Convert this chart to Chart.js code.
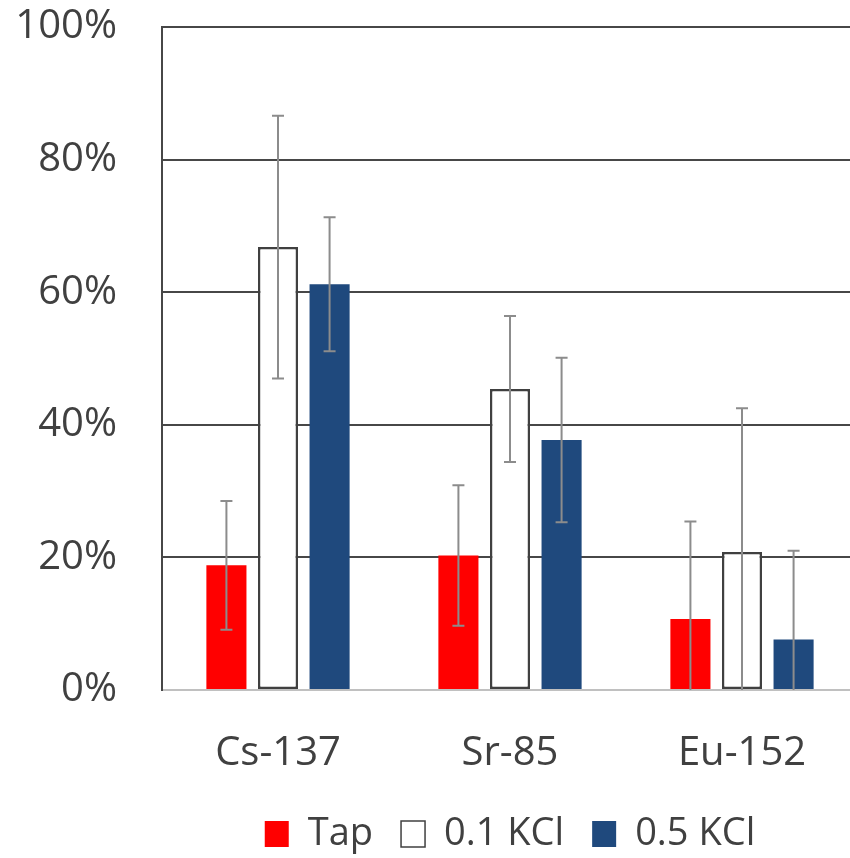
<!DOCTYPE html>
<html>
<head>
<meta charset="utf-8">
<script src="https://cdn.jsdelivr.net/npm/chart.js@4/dist/chart.umd.min.js"></script>
<style>
    html, body { margin: 0; padding: 0; background: #fff; overflow: hidden; }
    #caixa { width: 850px; height: 858px; overflow: hidden; position: relative; }
    canvas { position: absolute; left: 0; top: 0; }
</style>
</head>
<body>
<div id="caixa">
    <canvas id="grafico" width="870" height="863"></canvas>
</div>
<script>
const categorias = ["Cs-137", "Sr-85", "Eu-152"];
const tap = [18.8, 20.3, 10.7];
const kcl01 = [66.8, 45.4, 20.8];
const kcl05 = [61.2, 37.7, 7.6];
const erroTap = [9.7, 10.6, 14.7];
const erroKcl01 = [19.8, 11.0, 21.7];
const erroKcl05 = [10.1, 12.4, 13.4];
const ticksY = [0, 20, 40, 60, 80, 100];

const corTexto = "#404040";
const fonte = "'Open Sans', 'Noto Sans', sans-serif";

// barras de erro desenhadas pela escala y
const barrasErro = {
    id: "barrasErro",
    afterDatasetsDraw(chart) {
        const ctx = chart.ctx;
        const y = chart.scales.y;
        const area = chart.chartArea;
        ctx.save();
        ctx.beginPath();
        ctx.rect(area.left, area.top, area.right - area.left, area.bottom - area.top);
        ctx.clip();
        ctx.strokeStyle = "#8c8c8c";
        ctx.lineWidth = 2;
        chart.data.datasets.forEach((ds, i) => {
            const meta = chart.getDatasetMeta(i);
            meta.data.forEach((bar, j) => {
                const v = ds.data[j];
                const e = ds.erros[j];
                const yAlto = y.getPixelForValue(v + e);
                const yBaixo = y.getPixelForValue(v - e);
                ctx.beginPath();
                ctx.moveTo(bar.x, yAlto);
                ctx.lineTo(bar.x, yBaixo);
                ctx.moveTo(bar.x - 6, yAlto);
                ctx.lineTo(bar.x + 6, yAlto);
                ctx.moveTo(bar.x - 6, yBaixo);
                ctx.lineTo(bar.x + 6, yBaixo);
                ctx.stroke();
            });
        });
        ctx.restore();
    }
};

new Chart(document.getElementById("grafico"), {
    type: "bar",
    data: {
        labels: categorias,
        datasets: [
            { label: "Tap", data: tap, erros: erroTap, backgroundColor: "#ff0000", borderWidth: 0 },
            { label: "0.1 KCl", data: kcl01, erros: erroKcl01, backgroundColor: "#ffffff", borderColor: "#404040", borderWidth: 2.5, borderSkipped: false },
            { label: "0.5 KCl", data: kcl05, erros: erroKcl05, backgroundColor: "#1f497d", borderWidth: 0 }
        ]
    },
    options: {
        responsive: false,
        animation: false,
        events: [],
        categoryPercentage: 0.667,
        barPercentage: 0.777,
        layout: { padding: { left: 0, right: 12, top: 27, bottom: 0 } },
        plugins: {
            tooltip: { enabled: false },
            legend: {
                position: "bottom",
                fullSize: false,
                labels: {
                    color: corTexto,
                    font: { family: fonte, size: 38 },
                    boxWidth: 24,
                    boxHeight: 26,
                    padding: 28,
                    generateLabels(chart) {
                        return chart.data.datasets.map((ds, i) => ({
                            text: ds.label,
                            fillStyle: ds.backgroundColor,
                            strokeStyle: ds.borderColor || ds.backgroundColor,
                            lineWidth: ds.borderWidth ? 1.5 : 0,
                            fontColor: corTexto,
                            hidden: false,
                            datasetIndex: i
                        }));
                    }
                }
            }
        },
        scales: {
            x: {
                grid: { display: false, drawTicks: false },
                border: { color: "#c0c0c0", width: 2 },
                ticks: { color: corTexto, font: { family: fonte, size: 40 }, padding: 40 },
                afterFit(escala) { escala.height = 97; }
            },
            y: {
                min: 0,
                max: 100,
                afterBuildTicks(escala) { escala.ticks = ticksY.map(v => ({ value: v })); },
                grid: {
                    drawTicks: true,
                    tickLength: 42,
                    tickColor: "rgba(0,0,0,0)",
                    lineWidth: 2,
                    color: c => c.tick && c.tick.value === 0 ? "#c0c0c0" : "#474747"
                },
                border: { color: "#474747", width: 2 },
                ticks: {
                    color: corTexto,
                    font: { family: fonte, size: 40 },
                    padding: 3,
                    callback: v => v + "%"
                },
                afterFit(escala) { escala.width = 162; }
            }
        }
    },
    plugins: [barrasErro]
});
</script>
</body>
</html>
